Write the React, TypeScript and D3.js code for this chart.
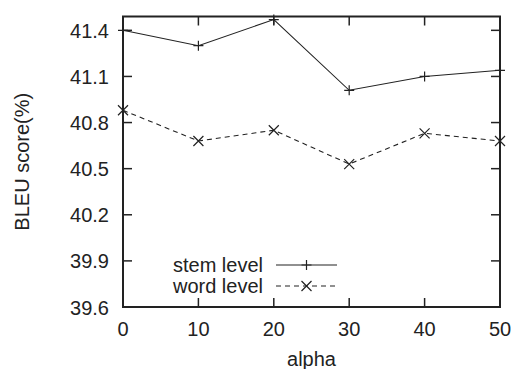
import React, { useEffect, useRef } from "react";
import * as d3 from "d3";

const alphas = [0, 10, 20, 30, 40, 50];
const stemLevel = [41.4, 41.3, 41.47, 41.01, 41.1, 41.14];
const wordLevel = [40.88, 40.68, 40.75, 40.53, 40.73, 40.68];
const yTicks = [39.6, 39.9, 40.2, 40.5, 40.8, 41.1, 41.4];
const seriesNames = ["stem level", "word level"];

const width = 518;
const height = 369;
const margin = { top: 16.5, right: 18, bottom: 62, left: 123 };

export default function App() {
  const ref = useRef<SVGSVGElement>(null);

  useEffect(() => {
    const svg = d3.select(ref.current);
    svg.selectAll("*").remove();

    const innerW = width - margin.left - margin.right;
    const innerH = height - margin.top - margin.bottom;
    const x = d3.scaleLinear().domain([0, 50]).range([0, innerW]);
    const y = d3.scaleLinear().domain([39.6, 41.49]).range([innerH, 0]);
    const ink = "#222";
    const font = "'Liberation Sans', Arial, sans-serif";
    const fs = "20px";

    const g = svg
      .append("g")
      .attr("transform", `translate(${margin.left},${margin.top})`);

    // inward ticks, mirrored like gnuplot
    const tickLen = 9;
    alphas.forEach((a) => {
      g.append("line")
        .attr("x1", x(a)).attr("x2", x(a))
        .attr("y1", innerH).attr("y2", innerH - tickLen)
        .attr("stroke", ink).attr("stroke-width", 1.5);
      g.append("line")
        .attr("x1", x(a)).attr("x2", x(a))
        .attr("y1", 0).attr("y2", tickLen)
        .attr("stroke", ink).attr("stroke-width", 1.5);
      g.append("text")
        .attr("x", x(a)).attr("y", innerH + 29)
        .attr("text-anchor", "middle")
        .style("font-family", font).style("font-size", fs)
        .attr("fill", ink)
        .text(String(a));
    });
    yTicks.forEach((t) => {
      g.append("line")
        .attr("x1", 0).attr("x2", tickLen)
        .attr("y1", y(t)).attr("y2", y(t))
        .attr("stroke", ink).attr("stroke-width", 1.5);
      g.append("line")
        .attr("x1", innerW).attr("x2", innerW - tickLen)
        .attr("y1", y(t)).attr("y2", y(t))
        .attr("stroke", ink).attr("stroke-width", 1.5);
      g.append("text")
        .attr("x", -14).attr("y", y(t) + 7.5)
        .attr("text-anchor", "end")
        .style("font-family", font).style("font-size", fs)
        .attr("fill", ink)
        .text(t.toFixed(1));
    });

    g.append("rect")
      .attr("width", innerW).attr("height", innerH)
      .attr("fill", "none").attr("stroke", ink).attr("stroke-width", 2);

    const line = d3
      .line<number>()
      .x((_, i) => x(alphas[i]))
      .y((d) => y(d));

    const plus = (sel: d3.Selection<SVGGElement, unknown, null, undefined>, cx: number, cy: number) => {
      sel.append("path")
        .attr("d", `M${cx - 5},${cy}H${cx + 5}M${cx},${cy - 5}V${cy + 5}`)
        .attr("stroke", ink).attr("stroke-width", 1.2).attr("fill", "none");
    };
    const cross = (sel: d3.Selection<SVGGElement, unknown, null, undefined>, cx: number, cy: number) => {
      sel.append("path")
        .attr("d", `M${cx - 5},${cy - 5}L${cx + 5},${cy + 5}M${cx - 5},${cy + 5}L${cx + 5},${cy - 5}`)
        .attr("stroke", ink).attr("stroke-width", 1.2).attr("fill", "none");
    };

    g.append("path")
      .attr("d", line(stemLevel))
      .attr("fill", "none").attr("stroke", ink).attr("stroke-width", 1.1);
    g.append("path")
      .attr("d", line(wordLevel))
      .attr("fill", "none").attr("stroke", ink).attr("stroke-width", 1.1)
      .attr("stroke-dasharray", "5,4");

    stemLevel.forEach((v, i) => plus(g, x(alphas[i]), y(v)));
    wordLevel.forEach((v, i) => cross(g, x(alphas[i]), y(v)));

    // legend
    const legendRows = [265 - margin.top, 286 - margin.top];
    seriesNames.forEach((name, i) => {
      const ly = legendRows[i];
      g.append("text")
        .attr("x", 263 - margin.left).attr("y", ly + 7)
        .attr("text-anchor", "end")
        .style("font-family", font).style("font-size", fs)
        .attr("fill", ink)
        .text(name);
      g.append("line")
        .attr("x1", 276 - margin.left).attr("x2", 337 - margin.left)
        .attr("y1", ly).attr("y2", ly)
        .attr("stroke", ink).attr("stroke-width", 1.1)
        .attr("stroke-dasharray", i === 1 ? "5,4" : null);
      if (i === 0) plus(g, 306.5 - margin.left, ly);
      else cross(g, 306.5 - margin.left, ly);
    });

    svg.append("text")
      .attr("x", margin.left + innerW / 2).attr("y", 366)
      .attr("text-anchor", "middle")
      .style("font-family", font).style("font-size", fs)
      .attr("fill", ink)
      .text("alpha");

    svg.append("text")
      .attr("transform", `translate(29,${margin.top + innerH / 2}) rotate(-90)`)
      .attr("text-anchor", "middle")
      .style("font-family", font).style("font-size", fs)
      .attr("fill", ink)
      .text("BLEU score(%)");
  }, []);

  return (
    <svg
      ref={ref}
      width={width}
      height={height}
      style={{ position: "absolute", left: 0, top: 0, background: "#fff" }}
    />
  );
}
